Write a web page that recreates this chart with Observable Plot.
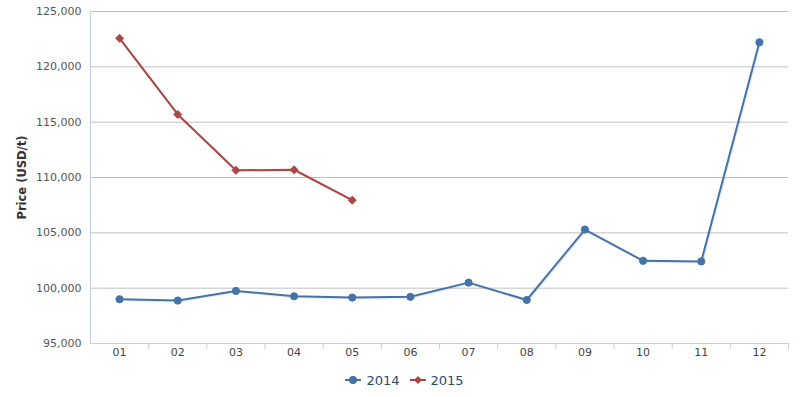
<!DOCTYPE html>
<html><head><meta charset="utf-8">
<script src="https://cdn.jsdelivr.net/npm/d3@7"></script>
<script src="https://cdn.jsdelivr.net/npm/@observablehq/plot@0.6"></script>
<style>
body{margin:0;background:#fff;font-family:"DejaVu Sans",Verdana,sans-serif;}
#chart svg{display:block;}
#legend{width:809px;height:30px;display:flex;justify-content:center;align-items:center;gap:10px;font-size:13px;color:#274b6d;margin-top:3px;}
#legend .item{display:flex;align-items:center;gap:5px;}
#legend svg{display:block;}
</style></head><body>
<div id="chart"></div>
<div id="legend"></div>
<script>
const months = ["01","02","03","04","05","06","07","08","09","10","11","12"];
const values2014 = [99000, 98880, 99750, 99270, 99150, 99220, 100500, 98930, 105300, 102470, 102420, 122220];
const values2015 = [122580, 115700, 110650, 110700, 107950];
const seriesNames = ["2014", "2015"];
const seriesColors = ["#4572A7", "#AA4643"];
const seriesSymbols = ["circle", "diamond2"];
const yTicks = [95000, 100000, 105000, 110000, 115000, 120000, 125000];
const yLabel = "Price (USD/t)";

const rows = [];
[values2014, values2015].forEach((vals, s) => {
  vals.forEach((v, i) => rows.push({series: seriesNames[s], m: i + 1, value: v}));
});
const boundaries = months.map((_, i) => i + 1.5);
const fmt = d3.format(",");

const chart = Plot.plot({
  width: 809,
  height: 362,
  marginLeft: 90,
  marginRight: 21,
  marginTop: 11,
  marginBottom: 19,
  style: {fontFamily: '"DejaVu Sans", Verdana, sans-serif', fontSize: "11px", background: "#fff"},
  x: {domain: [0.5, 12.5]},
  y: {domain: [95000, 125000]},
  color: {domain: seriesNames, range: seriesColors},
  symbol: {domain: seriesNames, range: seriesSymbols},
  marks: [
    Plot.gridY(yTicks, {stroke: "#C0C0C0", strokeOpacity: 1}),
    Plot.axisY(yTicks, {tickFormat: fmt, tickSize: 0, tickPadding: 9, label: null, color: "#555", fontSize: 11}),
    Plot.axisX(boundaries, {tickFormat: () => "", tickSize: 6, stroke: "#C0D0E0", label: null}),
    Plot.axisX(months.map((_, i) => i + 1), {tickFormat: d => months[d - 1], tickSize: 0, tickPadding: 5, label: null, color: "#444", fontSize: 11}),
    Plot.ruleX([0.5], {stroke: "#C0D0E0"}),
    Plot.ruleY([95000], {stroke: "#C0D0E0"}),
    Plot.text([yLabel], {frameAnchor: "left", textAnchor: "middle", dx: -68, rotate: -90, fontWeight: "bold", fontSize: 11.5, fill: "#333"}),
    Plot.line(rows, {x: "m", y: "value", z: "series", stroke: "series", strokeWidth: 2.2, strokeOpacity: 0.12, dx: 1, dy: 1}),
    Plot.line(rows, {x: "m", y: "value", z: "series", stroke: "series", strokeWidth: 2}),
    Plot.dot(rows, {x: "m", y: "value", fill: "series", stroke: "series", symbol: "series", r: 3.6, strokeWidth: 1})
  ]
});
document.getElementById("chart").appendChild(chart);

const legend = document.getElementById("legend");
seriesNames.forEach((name, i) => {
  const item = document.createElement("div");
  item.className = "item";
  const sym = seriesSymbols[i] === "circle"
    ? `<circle cx="8" cy="6" r="4" fill="${seriesColors[i]}"/>`
    : `<path d="M8,2 L12,6 L8,10 L4,6 Z" fill="${seriesColors[i]}"/>`;
  item.innerHTML = `<svg width="16" height="12"><line x1="0" x2="16" y1="6" y2="6" stroke="${seriesColors[i]}" stroke-width="2"/>${sym}</svg><span>${name}</span>`;
  legend.appendChild(item);
});
</script>
</body></html>
